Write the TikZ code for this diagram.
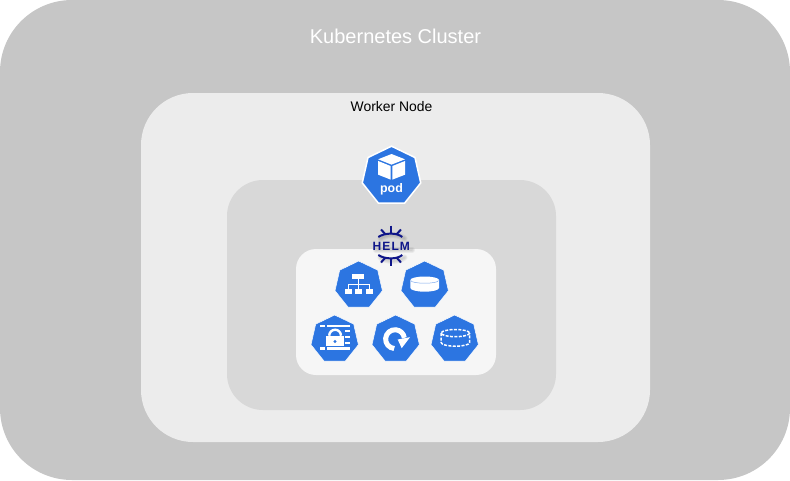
\documentclass[tikz,border=0pt]{standalone}
\usepackage{fontspec}
\setmainfont{Liberation Sans}
\newfontfamily\helmfont[LetterSpace=9]{Liberation Sans}
\usetikzlibrary{shapes.geometric}

\definecolor{clustergray}{HTML}{C6C6C6}
\definecolor{workergray}{HTML}{ECECEC}
\definecolor{podgray}{HTML}{D8D8D8}
\definecolor{chartgray}{HTML}{F6F6F6}
\definecolor{kubeblue}{HTML}{2C75E1}
\definecolor{helmblue}{HTML}{0F1689}

\tikzstyle{areabox} = [rectangle, draw=none, inner sep=0pt, outer sep=0pt]
\tikzstyle{clusterbox} = [areabox, fill=clustergray, minimum width=790pt, minimum height=480pt, rounded corners=72pt]
\tikzstyle{workerbox} = [areabox, fill=workergray, minimum width=509pt, minimum height=349pt, rounded corners=52pt]
\tikzstyle{podbox} = [areabox, fill=podgray, minimum width=329pt, minimum height=230pt, rounded corners=36pt]
\tikzstyle{chartbox} = [areabox, fill=chartgray, minimum width=200pt, minimum height=126pt, rounded corners=20pt]
\tikzstyle{kubeicon} = [regular polygon, regular polygon sides=7, fill=kubeblue, draw=white, line width=0.5pt, inner sep=0pt, outer sep=0pt, minimum size=48.6pt]
\tikzstyle{iconfill} = [fill=white, draw=none]
\tikzstyle{iconline} = [draw=white, line width=1.1pt]
\tikzstyle{icondash} = [draw=white, line width=1.5pt, dash pattern=on 3pt off 1.4pt]
\tikzstyle{helmline} = [draw=helmblue, line width=2pt]
\tikzstyle{helmshade} = [draw=black, opacity=0.05, line cap=round]

\begin{document}
\begin{tikzpicture}[x=1pt, y=-1pt]
\useasboundingbox (0,0) rectangle (790,480);

\node[clusterbox] (cluster) at (395,240) {};
\node[workerbox] (worker) at (395.5,267.5) {};
\node[podbox] (podarea) at (391.5,295) {};
\node[chartbox] (chart) at (396,312) {};

\node[text=white, font=\fontsize{20}{24}\selectfont] (clusterlabel) at (395.5,36) {Kubernetes Cluster};
\node[text=black, font=\fontsize{13.9}{16}\selectfont] (workerlabel) at (391.5,107) {Worker Node};

% pod
\node[kubeicon, line width=1.5pt, minimum size=60pt] (pod) at (391.5,176.2) {};
\fill[iconfill] (391.5,154) -- (405,159.3) -- (391.5,164.6) -- (378.2,159.3) -- cycle;
\fill[iconfill] (378.2,161) -- (390.6,166) -- (390.6,179.6) -- (378.2,174.7) -- cycle;
\fill[iconfill] (405,161) -- (392.4,166) -- (392.4,179.6) -- (405,174.7) -- cycle;
\node[text=white, font=\fontsize{12.4}{14}\bfseries\selectfont] (podlabel) at (391.5,189.3) {pod};

% helm
\foreach \w in {2,4,6} {
  \draw[helmshade, line width=\w pt] (380.5,238.5) .. controls (387,234) and (398,234) .. (404.5,238.5);
  \draw[helmshade, line width=\w pt] (380.5,257.5) .. controls (387,262) and (398,262) .. (404.5,257.5);
  \draw[helmshade, line width=\w pt] (376,250) -- (412,250);
}
\draw[helmline] (378.3,237) .. controls (385,232.5) and (397,232.5) .. (402.3,237);
\draw[helmline] (391,225.7) -- (391,233);
\draw[helmline] (381,229.5) -- (385.5,234.3);
\draw[helmline] (401,229.5) -- (396.5,234.3);
\node[text=helmblue, font=\fontsize{12}{14}\helmfont\bfseries] (helmlabel) at (391.3,246.7) {HELM};
\draw[helmline] (378.3,255) .. controls (385,259.5) and (397,259.5) .. (402.3,255);
\draw[helmline] (391,258) -- (391,265.5);
\draw[helmline] (385.5,257.5) -- (381,262.5);
\draw[helmline] (396.5,257.5) -- (401,262.5);

% service
\node[kubeicon] (service) at (358.7,285.3) {};
\fill[iconfill] (352.3,274) rectangle (364.3,279);
\fill[iconfill] (345,289.3) rectangle (352.3,294.3);
\fill[iconfill] (355,289.3) rectangle (362.3,294.3);
\fill[iconfill] (365.7,289.3) rectangle (372.7,294.3);
\draw[iconline] (358.5,279) -- (358.5,289.3);
\draw[iconline] (348.6,289.3) -- (348.6,284.2) -- (369.2,284.2) -- (369.2,289.3);

% persistent volume
\node[kubeicon] (volume) at (424.7,285.3) {};
\fill[iconfill] (410.4,280) arc (180:360:14.3 and 3.5) -- (439,288) arc (0:180:14.3 and 3.7) -- cycle;
\draw[draw=kubeblue!60!white, line width=0.5pt] (410.9,280.6) arc (180:0:13.8 and 2.6);

% secret
\node[kubeicon] (secret) at (334.7,339.3) {};
\fill[iconfill] (320,325) rectangle (325,327.3);
\fill[iconfill] (326.7,325) rectangle (350,327.3);
\fill[iconfill] (345,330) rectangle (350,332.2);
\fill[iconfill] (345,336) rectangle (350,338.2);
\fill[iconfill] (345,342) rectangle (350,344.2);
\fill[iconfill] (320,347.2) rectangle (325,349.5);
\fill[iconfill] (326.7,347.2) rectangle (350,349.5);
\fill[iconfill] (326,335.7) rectangle (344.3,346.3);
\draw[iconline, line width=2.4pt] (329.2,335.7) arc (180:360:5.9 and 6);
\fill[kubeblue] (335,341.5) circle (1.6);

% deployment
\node[kubeicon] (deployment) at (395.7,339.3) {};
\draw[iconline, line width=5pt] (394.2,348.5) arc (95:352:9.4);
\fill[iconfill] (397.7,339.5) -- (410,337.2) -- (401.7,348.2) -- cycle;

% persistent volume claim
\node[kubeicon] (claim) at (454.7,339.3) {};
\draw[icondash] (455.4,333.1) ellipse (14.2 and 3.6);
\draw[icondash] (441.2,333.1) -- (441.2,342.6) arc (180:0:14.2 and 3.6) -- (469.6,333.1);

\end{tikzpicture}
\end{document}
